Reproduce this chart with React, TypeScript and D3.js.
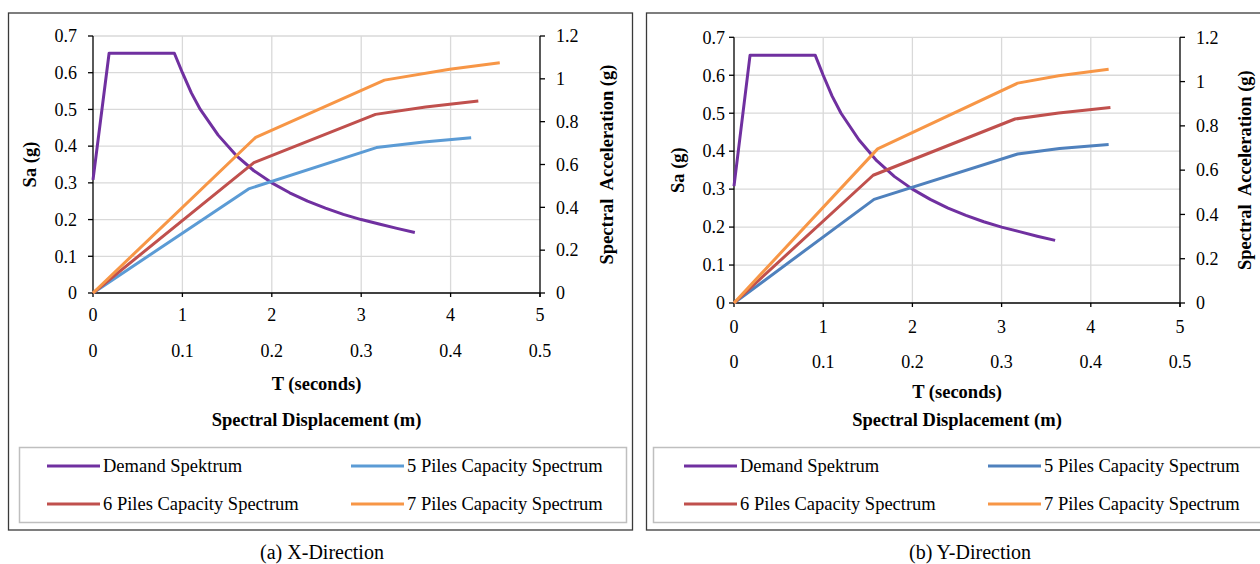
import React from "react";
import { scaleLinear, line } from "d3";

// ---- data ----
const tTicks = [0, 1, 2, 3, 4, 5];
const sdTicks = [0, 0.1, 0.2, 0.3, 0.4, 0.5];
const saTicks = [0, 0.1, 0.2, 0.3, 0.4, 0.5, 0.6, 0.7];
const accTicks = [0, 0.2, 0.4, 0.6, 0.8, 1, 1.2];

const seriesNames = [
  "Demand Spektrum",
  "5 Piles Capacity Spectrum",
  "6 Piles Capacity Spectrum",
  "7 Piles Capacity Spectrum",
];

// demand spectrum (T in s, Sa in g) - same in both directions
const demandT = [0, 0.18, 0.91, 1.0, 1.1, 1.2, 1.4, 1.6, 1.8, 2.0, 2.2, 2.4, 2.6, 2.8, 3.0, 3.2, 3.4, 3.6];
const demandSa = [0.308, 0.653, 0.653, 0.6, 0.545, 0.5, 0.43, 0.375, 0.333, 0.3, 0.273, 0.25, 0.231, 0.214, 0.2, 0.188, 0.176, 0.165];

// X-direction capacity spectra (Sd in m, Sa in g)
const xPile5Sd = [0, 0.174, 0.317, 0.37, 0.423];
const xPile5Sa = [0, 0.486, 0.679, 0.705, 0.725];
const xPile6Sd = [0, 0.18, 0.316, 0.372, 0.431];
const xPile6Sa = [0, 0.609, 0.834, 0.868, 0.896];
const xPile7Sd = [0, 0.182, 0.326, 0.399, 0.455];
const xPile7Sa = [0, 0.727, 0.994, 1.045, 1.075];

// Y-direction capacity spectra
const yPile5Sd = [0, 0.157, 0.318, 0.365, 0.42];
const yPile5Sa = [0, 0.468, 0.673, 0.698, 0.716];
const yPile6Sd = [0, 0.156, 0.315, 0.364, 0.422];
const yPile6Sa = [0, 0.577, 0.831, 0.858, 0.883];
const yPile7Sd = [0, 0.161, 0.318, 0.364, 0.42];
const yPile7Sa = [0, 0.696, 0.993, 1.026, 1.056];

const FONT = "Liberation Serif, serif";
const zip = (a: number[], b: number[]) => a.map((v, i) => [v, b[i]] as [number, number]);

function Panel({ cfg, caps, colors, caption }: any) {
  const { frame, plot } = cfg;
  const xT = scaleLinear().domain([0, 5]).range([plot.left, plot.right]);
  const xSd = scaleLinear().domain([0, 0.5]).range([plot.left, plot.right]);
  const ySa = scaleLinear().domain([0, 0.7]).range([plot.bottom, plot.top]);
  const yAcc = scaleLinear().domain([0, 1.2]).range([plot.bottom, plot.top]);

  const demandLine = line<[number, number]>().x(d => xT(d[0])).y(d => ySa(d[1]));
  const capLine = line<[number, number]>().x(d => xSd(d[0])).y(d => yAcc(d[1]));
  const cy = (plot.top + plot.bottom) / 2;
  const cx = (plot.left + plot.right) / 2;

  return (
    <g style={{ fontFamily: FONT }} fill="#000">
      <rect x={frame.x} y={frame.y} width={frame.w} height={frame.h} fill="white" stroke="#3a3a3a" strokeWidth={1.3}/>
      {/* gridlines */}
      {saTicks.slice(1).map(t => (
        <line key={"h" + t} x1={plot.left} x2={plot.right} y1={ySa(t)} y2={ySa(t)} stroke="#d9d9d9" strokeWidth={1.3}/>
      ))}
      {tTicks.slice(1, -1).map(t => (
        <line key={"v" + t} x1={xT(t)} x2={xT(t)} y1={plot.top} y2={plot.bottom} stroke="#d9d9d9" strokeWidth={1.3}/>
      ))}
      {/* axes */}
      <line x1={plot.left} x2={plot.left} y1={plot.top} y2={plot.bottom} stroke="black" strokeWidth={1.3}/>
      <line x1={plot.right} x2={plot.right} y1={plot.top} y2={plot.bottom + 4} stroke="black" strokeWidth={1.3}/>
      <line x1={plot.left} x2={plot.right} y1={plot.bottom} y2={plot.bottom} stroke="black" strokeWidth={1.3}/>
      {saTicks.map(t => (
        <g key={"ys" + t}>
          <line x1={plot.left - 5} x2={plot.left} y1={ySa(t)} y2={ySa(t)} stroke="black" strokeWidth={1.3}/>
          <text x={plot.left - cfg.yLabelGap} y={ySa(t)} dy="0.35em" textAnchor="end" fontSize={18}>{t}</text>
        </g>
      ))}
      {accTicks.map(t => (
        <g key={"ya" + t}>
          <line x1={plot.right} x2={plot.right + 5} y1={yAcc(t)} y2={yAcc(t)} stroke="black" strokeWidth={1.3}/>
          <text x={plot.right + 16} y={yAcc(t)} dy="0.35em" textAnchor="start" fontSize={18}>{t}</text>
        </g>
      ))}
      {tTicks.map(t => (
        <g key={"xt" + t}>
          <line x1={xT(t)} x2={xT(t)} y1={plot.bottom} y2={plot.bottom + 4} stroke="black" strokeWidth={1.3}/>
          <text x={xT(t)} y={cfg.row1Y} dy="0.35em" textAnchor="middle" fontSize={18}>{t}</text>
        </g>
      ))}
      {sdTicks.map(t => (
        <text key={"xs" + t} x={xSd(t)} y={cfg.row2Y} dy="0.35em" textAnchor="middle" fontSize={18}>{t}</text>
      ))}
      {/* titles */}
      <text x={cx} y={cfg.tTitleY} dy="0.35em" textAnchor="middle" fontSize={18.5} fontWeight="bold">T (seconds)</text>
      <text x={cx} y={cfg.sdTitleY} dy="0.35em" textAnchor="middle" fontSize={18.5} fontWeight="bold">Spectral Displacement (m)</text>
      <text transform={`translate(${cfg.saX},${cy}) rotate(-90)`} dy="0.35em" textAnchor="middle" fontSize={18.5} fontWeight="bold">Sa (g)</text>
      <text transform={`translate(${cfg.accX},${cy}) rotate(-90)`} dy="0.35em" textAnchor="middle" fontSize={18.5} fontWeight="bold" style={{ whiteSpace: "pre" }}>{"Spectral  Acceleration (g)"}</text>
      {/* series */}
      <path d={demandLine(zip(demandT, demandSa)) || ""} fill="none" stroke={colors[0]} strokeWidth={3} strokeLinejoin="round"/>
      {caps.map((c: number[][], i: number) => (
        <path key={i} d={capLine(zip(c[0], c[1])) || ""} fill="none" stroke={colors[i + 1]} strokeWidth={3} strokeLinejoin="round"/>
      ))}
      {/* legend */}
      <rect x={cfg.legend.x} y={cfg.legend.y} width={cfg.legend.w} height={cfg.legend.h} fill="white" stroke="#bfbfbf" strokeWidth={1.5}/>
      {seriesNames.map((name, i) => {
        const col = i % 2;
        const row = Math.floor(i / 2);
        const lx = cfg.legend.cols[col];
        const ly = cfg.legend.rows[row];
        return (
          <g key={name}>
            <line x1={lx} x2={lx + 53} y1={ly} y2={ly} stroke={colors[i]} strokeWidth={3}/>
            <text x={lx + 56} y={ly} dy="0.35em" fontSize={18.5}>{name}</text>
          </g>
        );
      })}
      <text x={cfg.captionX} y={552} dy="0.35em" textAnchor="middle" fontSize={20}>{caption}</text>
    </g>
  );
}

const leftCfg = {
  frame: { x: 8.5, y: 13, w: 624, h: 517 },
  plot: { left: 93, right: 540, top: 36, bottom: 293 },
  yLabelGap: 16,
  row1Y: 315, row2Y: 351, tTitleY: 384, sdTitleY: 420,
  saX: 30, accX: 607,
  legend: { x: 19.5, y: 447.5, w: 607, h: 75, cols: [47, 351], rows: [466, 504] },
  captionX: 322,
};

const rightCfg = {
  frame: { x: 646.5, y: 13, w: 640, h: 517 },
  plot: { left: 734, right: 1180, top: 37.3, bottom: 303 },
  yLabelGap: 9,
  row1Y: 327, row2Y: 362, tTitleY: 392, sdTitleY: 420,
  saX: 678, accX: 1245,
  legend: { x: 653.5, y: 447.5, w: 640, h: 75, cols: [684, 988], rows: [466, 504] },
  captionX: 970,
};

export default function App() {
  return (
    <svg width={1260} height={564} style={{ position: "absolute", left: 0, top: 0, background: "white" }}>
      <Panel
        cfg={leftCfg}
        caps={[[xPile5Sd, xPile5Sa], [xPile6Sd, xPile6Sa], [xPile7Sd, xPile7Sa]]}
        colors={["#7030a0", "#5b9bd5", "#c0504d", "#f79646"]}
        caption="(a) X-Direction"
      />
      <Panel
        cfg={rightCfg}
        caps={[[yPile5Sd, yPile5Sa], [yPile6Sd, yPile6Sa], [yPile7Sd, yPile7Sa]]}
        colors={["#7030a0", "#4f81bd", "#c0504d", "#f79646"]}
        caption="(b) Y-Direction"
      />
    </svg>
  );
}
